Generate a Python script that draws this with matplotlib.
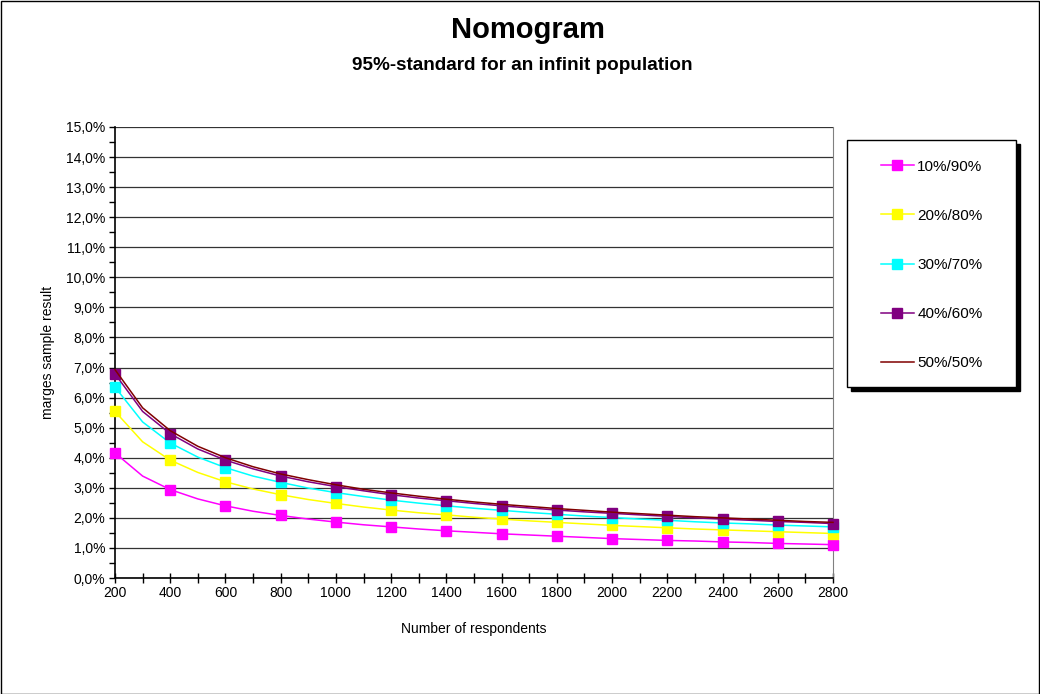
import matplotlib
matplotlib.use("Agg")
import matplotlib.pyplot as plt
from matplotlib.patches import Rectangle
from matplotlib.ticker import FuncFormatter, MultipleLocator

plt.rcParams['font.family'] = ['Liberation Sans', 'DejaVu Sans']

# respondents, one point per 100
respondents = list(range(200, 2801, 100))

# margins in percent
m_10_90 = [4.16, 3.39, 2.94, 2.63, 2.40, 2.22, 2.08, 1.96, 1.86, 1.77, 1.70, 1.63, 1.57, 1.52,
           1.47, 1.43, 1.39, 1.35, 1.31, 1.28, 1.25, 1.23, 1.20, 1.18, 1.15, 1.13, 1.11]
m_20_80 = [5.54, 4.53, 3.92, 3.51, 3.20, 2.96, 2.77, 2.61, 2.48, 2.36, 2.26, 2.17, 2.10, 2.02,
           1.96, 1.90, 1.85, 1.80, 1.75, 1.71, 1.67, 1.63, 1.60, 1.57, 1.54, 1.51, 1.48]
m_30_70 = [6.35, 5.19, 4.49, 4.02, 3.67, 3.39, 3.18, 2.99, 2.84, 2.71, 2.59, 2.49, 2.40, 2.32,
           2.25, 2.18, 2.12, 2.06, 2.01, 1.96, 1.92, 1.87, 1.83, 1.80, 1.76, 1.73, 1.70]
m_40_60 = [6.79, 5.54, 4.80, 4.29, 3.92, 3.63, 3.39, 3.20, 3.04, 2.90, 2.77, 2.66, 2.57, 2.48,
           2.40, 2.33, 2.26, 2.20, 2.15, 2.10, 2.05, 2.00, 1.96, 1.92, 1.88, 1.85, 1.81]
m_50_50 = [6.93, 5.66, 4.90, 4.38, 4.00, 3.70, 3.46, 3.27, 3.10, 2.95, 2.83, 2.72, 2.62, 2.53,
           2.45, 2.38, 2.31, 2.25, 2.19, 2.14, 2.09, 2.04, 2.00, 1.96, 1.92, 1.88, 1.85]

labels = ['10%/90%', '20%/80%', '30%/70%', '40%/60%', '50%/50%']
series = [m_10_90, m_20_80, m_30_70, m_40_60, m_50_50]
colors = ['#FF00FF', '#FFFF00', '#00FFFF', '#800080', '#800000']
markers = ['s', 's', 's', 's', None]

fig = plt.figure(figsize=(10.4, 6.94), dpi=100)
ax = fig.add_axes([115 / 1040, 1 - 578 / 694, 718 / 1040, 451 / 694])

for vals, lab, col, mk in zip(series, labels, colors, markers):
    ax.plot(respondents, vals, color=col, lw=1.1, label=lab, marker=mk, markersize=6.5,
            markevery=2, markeredgecolor=col, clip_on=False, zorder=3)

ax.set_xlim(200, 2800)
ax.set_ylim(0, 15)
ax.xaxis.set_major_locator(MultipleLocator(200))
ax.xaxis.set_minor_locator(MultipleLocator(100))
ax.yaxis.set_major_locator(MultipleLocator(1))
ax.yaxis.set_minor_locator(MultipleLocator(0.5))
ax.yaxis.set_major_formatter(FuncFormatter(lambda v, p: ('%.1f%%' % v).replace('.', ',')))
ax.tick_params(axis='x', which='both', direction='inout', length=7, width=1, labelsize=10, pad=2)
ax.tick_params(axis='y', which='both', direction='out', length=4, width=1, labelsize=10, pad=3)
ax.grid(axis='y', which='major', color='#333333', lw=0.9)
ax.set_axisbelow(True)

ax.spines['top'].set_visible(False)
ax.spines['right'].set_color('#808080')
ax.spines['left'].set_linewidth(1.2)
ax.spines['bottom'].set_linewidth(1.2)

ax.set_xlabel('Number of respondents', fontsize=10, labelpad=16)
ax.set_ylabel('marges sample result', fontsize=10, labelpad=8)

fig.text(0.508, 1 - 30 / 694, 'Nomogram', ha='center', va='center', fontsize=21, fontweight='bold')
fig.text(0.502, 1 - 66 / 694, '95%-standard for an infinit population', ha='center', va='center',
         fontsize=13.6, fontweight='bold')

# legend box with a hard shadow
lx, ly, lw_, lh = 847, 140, 169, 247
fig.patches.append(Rectangle(((lx + 4) / 1040, 1 - (ly + lh + 4) / 694), lw_ / 1040, lh / 694,
                             transform=fig.transFigure, facecolor='black', edgecolor='black', zorder=1))
fig.patches.append(Rectangle((lx / 1040, 1 - (ly + lh) / 694), lw_ / 1040, lh / 694,
                             transform=fig.transFigure, facecolor='white', edgecolor='black', lw=1, zorder=2))
fig.legend(loc='upper left', bbox_to_anchor=(873 / 1040, 1 - 152 / 694), frameon=False,
           fontsize=11, labelspacing=2.3, handlelength=2.2, handletextpad=0.2, borderpad=0,
           markerscale=1.0)

# outer chart border
fig.patches.append(Rectangle((0.5 / 1040, 0.5 / 694), 1038.5 / 1040, 692.5 / 694,
                             transform=fig.transFigure, facecolor='none', edgecolor='black', lw=1))

fig.savefig('out.png', dpi=100)
